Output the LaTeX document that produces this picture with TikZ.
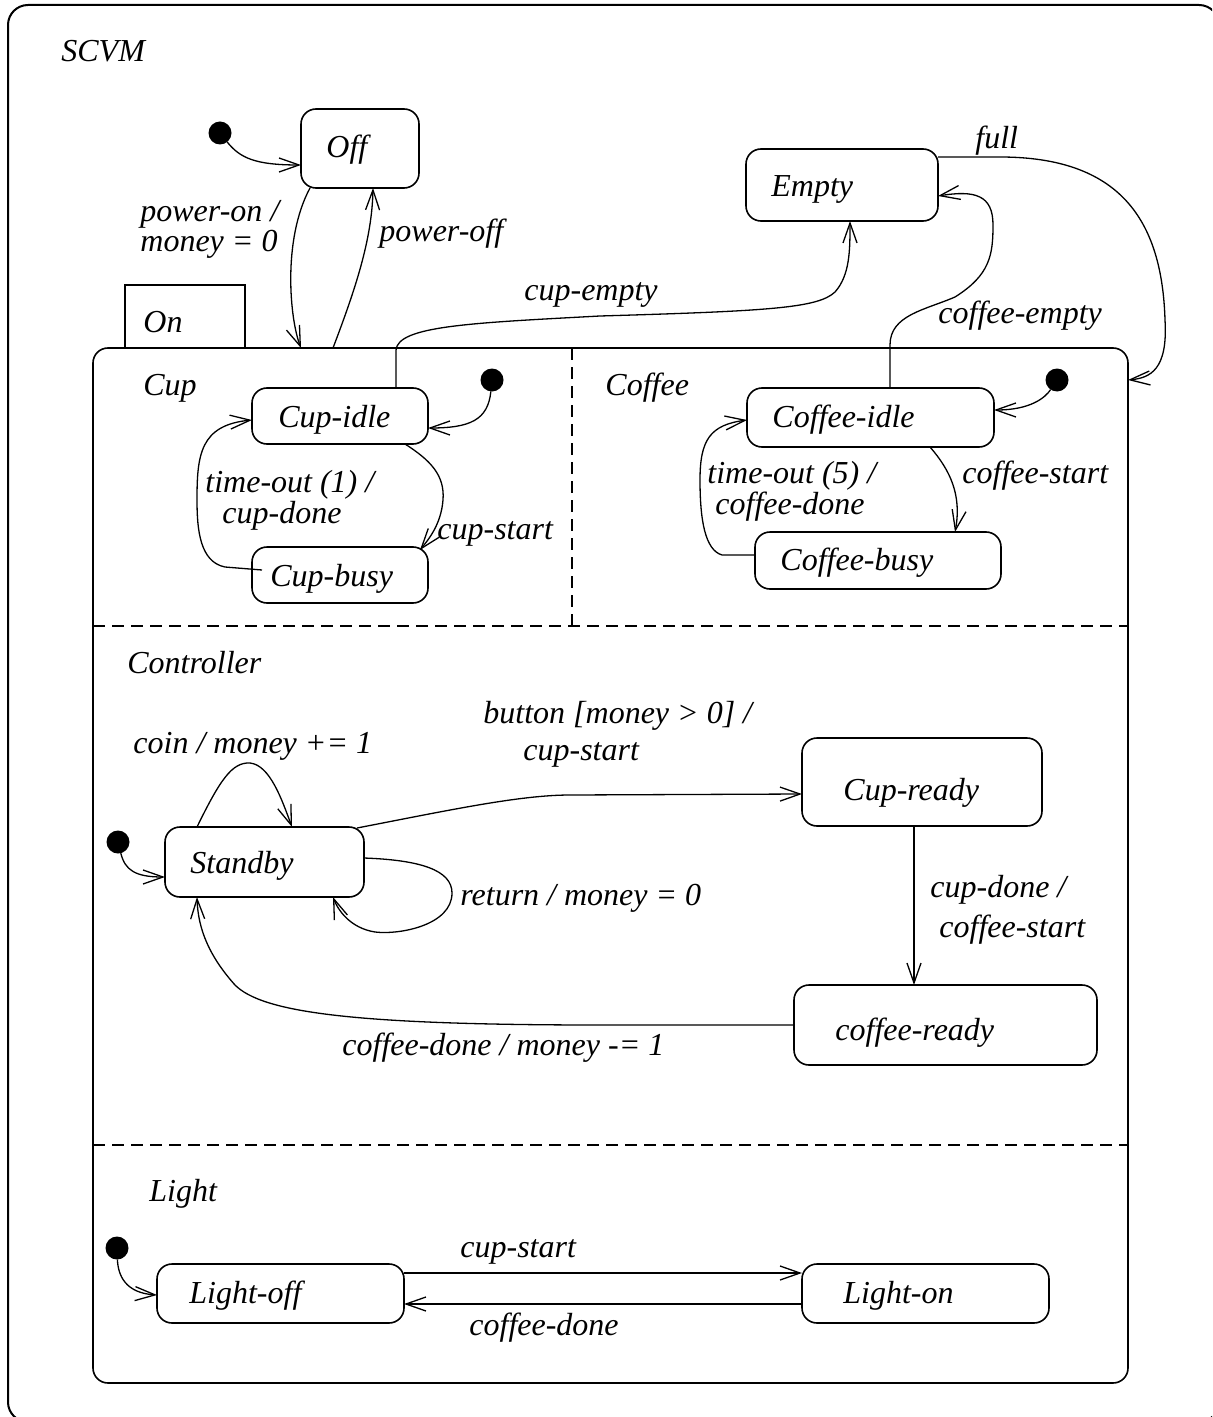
\documentclass[tikz,border=0pt]{standalone}
\usepackage{fontspec}
\setmainfont{Liberation Serif}
\usetikzlibrary{arrows.meta}
\begin{document}
\begin{tikzpicture}[x=0.5pt,y=-0.5pt,
  state/.style={draw, line width=0.8pt, rounded corners=7.5pt, inner sep=0pt, outer sep=0pt},
  tab/.style={draw, line width=0.8pt, inner sep=0pt, outer sep=0pt},
  startdot/.style={circle, fill=black, inner sep=0pt, outer sep=0pt, minimum size=11.5pt},
  tr/.style={draw, line width=0.65pt, -{Straight Barb[length=10pt,width=7pt]}},
  lbl/.style={anchor=base west, inner sep=0pt, font=\itshape\fontsize{16}{16}\selectfont},
  region/.style={draw, dash pattern=on 6pt off 3.5pt, line width=0.65pt}]

\useasboundingbox (0,0) rectangle (1212,1417);
\fill[white] (0,0) rectangle (1212,1417);
\clip (0,0) rectangle (1212,1417);

% outer machine
\node[state, line width=1pt, rounded corners=10pt, minimum width=605.5pt, minimum height=708.5pt] (scvm) at (613.5,713.5) {};
\node[lbl] (tscvm) at (61,62) {SCVM};

% top level states
\node[startdot] (i0) at (220,133) {};
\node[state, minimum width=59pt, minimum height=39.5pt] (off) at (360,148.5) {};
\node[lbl] (toff) at (326,158) {Off};
\node[state, minimum width=96pt, minimum height=36pt] (empty) at (842,185) {};
\node[lbl] (tempty) at (771,197) {Empty};

% composite state On
\node[tab, minimum width=60pt, minimum height=31.5pt] (ontab) at (185,316.5) {};
\node[lbl] (ton) at (143,333) {On};
\node[state, fill=white, minimum width=517.5pt, minimum height=517.5pt] (on) at (610.5,865.5) {};

% region separators
\coordinate (sepv1) at (572,348);
\coordinate (sepv2) at (572,626);
\coordinate (seph1a) at (93,626);
\coordinate (seph1b) at (1128,626);
\coordinate (seph2a) at (93,1145);
\coordinate (seph2b) at (1128,1145);
\draw[region] (sepv1) -- (sepv2);
\draw[region] (seph1a) -- (seph1b);
\draw[region] (seph2a) -- (seph2b);

% Cup region
\node[lbl] (tcup) at (143,395) {Cup};
\node[startdot] (icup) at (492,380) {};
\node[state, minimum width=88pt, minimum height=28pt] (cupidle) at (340,416) {};
\node[lbl] (tcupidle) at (278,427) {Cup-idle};
\node[state, minimum width=88pt, minimum height=28pt] (cupbusy) at (340,575) {};
\node[lbl] (tcupbusy) at (270,586) {Cup-busy};

% Coffee region
\node[lbl] (tcoffee) at (605,395) {Coffee};
\node[startdot] (icoffee) at (1057,380) {};
\node[state, minimum width=123.5pt, minimum height=29.5pt] (coffeeidle) at (870.5,417.5) {};
\node[lbl] (tcoffeeidle) at (772,427) {Coffee-idle};
\node[state, minimum width=123pt, minimum height=28.5pt] (coffeebusy) at (878,560.5) {};
\node[lbl] (tcoffeebusy) at (780,570) {Coffee-busy};

% Controller region
\node[lbl] (tctrl) at (127,673) {Controller};
\node[startdot] (ictrl) at (118,842) {};
\node[state, minimum width=99.5pt, minimum height=35pt] (standby) at (264.5,862) {};
\node[lbl] (tstandby) at (190,873) {Standby};
\node[state, minimum width=120pt, minimum height=44pt] (cupready) at (922,782) {};
\node[lbl] (tcupready) at (843,800) {Cup-ready};
\node[state, minimum width=151.5pt, minimum height=40pt] (coffeeready) at (945.5,1025) {};
\node[lbl] (tcoffeeready) at (835,1040) {coffee-ready};

% Light region
\node[lbl] (tlight) at (149,1201) {Light};
\node[startdot] (ilight) at (117,1248) {};
\node[state, minimum width=123.5pt, minimum height=29.5pt] (lightoff) at (280.5,1293.5) {};
\node[lbl] (tlightoff) at (189,1303) {Light-off};
\node[state, minimum width=123.5pt, minimum height=29.5pt] (lighton) at (925.5,1293.5) {};
\node[lbl] (tlighton) at (843,1303) {Light-on};

% ---- transitions: top level
\draw[tr] (i0) .. controls (240,158) and (255,165) .. ([yshift=-8.25pt]off.west);
\draw[tr] ([xshift=-25pt]off.south) .. controls (282,240) and (290,320) .. ([xshift=-154.75pt]on.north);
\node[lbl] (lpon1) at (140,222) {power-on /};
\node[lbl] (lpon2) at (140,252) {money = 0};
\draw[tr] ([xshift=-138.75pt]on.north) .. controls (355,290) and (372,240) .. ([xshift=6.5pt]off.south);
\node[lbl] (lpoff) at (379,242) {power-off};

\draw[tr] ([xshift=28pt]cupidle.north) -- (396,350) .. controls (398,326) and (470,323) .. (600,316)
  .. controls (770,311) and (818,308) .. (835,292) .. controls (850,275) and (850,250) .. ([xshift=4pt]empty.south);
\node[lbl] (lcupempty) at (524,300) {cup-empty};

\draw[tr] ([xshift=9.75pt]coffeeidle.north) -- (890,345) .. controls (890,315) and (925,310) .. (955,297)
  .. controls (990,275) and (993,255) .. (993,225) .. controls (993,195) and (975,190) .. ([yshift=-5.5pt]empty.east);
\node[lbl] (lcoffeeempty) at (938,323) {coffee-empty};

\draw[tr] ([yshift=14pt]empty.east) -- (1000,157) .. controls (1120,157) and (1162,220) .. (1165,320)
  .. controls (1168,370) and (1150,378) .. ([yshift=242.75pt]on.east);
\node[lbl] (lfull) at (975,149) {full};

% ---- Cup region
\draw[tr] (icup) .. controls (488,420) and (470,428) .. ([yshift=-6pt]cupidle.east);
\draw[tr] ([xshift=32.5pt]cupidle.south) .. controls (430,460) and (445,475) .. (443,500)
  .. controls (441,525) and (428,540) .. ([xshift=40pt,yshift=-1.5pt]cupbusy.north);
\node[lbl] (lcupstart) at (437,539) {cup-start};
\draw[tr] ([xshift=5pt,yshift=2.5pt]cupbusy.west) -- (225,567) .. controls (200,562) and (197,530) .. (197,500)
  .. controls (197,455) and (200,425) .. ([yshift=-2pt]cupidle.west);
\node[lbl] (lto1a) at (205,492) {time-out (1) /};
\node[lbl] (lto1b) at (222,523) {cup-done};

% ---- Coffee region
\draw[tr] (icoffee) .. controls (1045,398) and (1030,410) .. ([yshift=3.75pt]coffeeidle.east);
\draw[tr] ([xshift=29.75pt]coffeeidle.south) .. controls (950,470) and (962,495) .. ([xshift=38.5pt]coffeebusy.north);
\node[lbl] (lcoffeestart) at (962,483) {coffee-start};
\draw[tr] ([yshift=2.75pt]coffeebusy.west) -- (722,555) .. controls (705,550) and (700,520) .. (700,480)
  .. controls (700,440) and (710,425) .. ([yshift=-1.25pt]coffeeidle.west);
\node[lbl] (lto5a) at (707,483) {time-out (5) /};
\node[lbl] (lto5b) at (715,514) {coffee-done};

% ---- Controller region
\draw[tr] (ictrl) .. controls (125,870) and (135,877) .. ([yshift=-7.5pt]standby.west);
\draw[tr] ([xshift=-33.75pt]standby.north) .. controls (220,780) and (232,762) .. (250,763)
  .. controls (270,765) and (282,800) .. ([xshift=13.75pt]standby.north);
\node[lbl] (lcoin) at (133,753) {coin / money += 1};
\draw[tr] ([yshift=2pt]standby.east) .. controls (420,860) and (452,870) .. (452,893)
  .. controls (452,925) and (400,935) .. (375,932) .. controls (350,928) and (338,910) .. ([xshift=34.25pt]standby.south);
\node[lbl] (lreturn) at (460,905) {return / money = 0};
\draw[tr] ([xshift=46.25pt,yshift=-0.5pt]standby.north) .. controls (450,810) and (520,795) .. (570,795)
  -- ([yshift=-6pt]cupready.west);
\node[lbl] (lbutton1) at (483,723) {button [money > 0] /};
\node[lbl] (lbutton2) at (523,760) {cup-start};
\draw[tr] ([xshift=-4pt]cupready.south) -- ([xshift=-15.75pt]coffeeready.north);
\node[lbl] (lcupdone1) at (930,897) {cup-done /};
\node[lbl] (lcupdone2) at (939,937) {coffee-start};
\draw[tr] (coffeeready.west) -- (600,1025) .. controls (350,1025) and (262,1012) .. (235,985)
  .. controls (210,957) and (198,930) .. ([xshift=-33.75pt]standby.south);
\node[lbl] (lcoffeedone) at (342,1055) {coffee-done / money -= 1};

% ---- Light region
\draw[tr] (ilight) .. controls (118,1275) and (125,1293) .. ([yshift=-0.75pt]lightoff.west);
\draw[tr] ([yshift=10.25pt]lightoff.east) -- ([yshift=10.25pt]lighton.west);
\node[lbl] (llcupstart) at (460,1257) {cup-start};
\draw[tr] ([yshift=-5.25pt]lighton.west) -- ([yshift=-5.25pt]lightoff.east);
\node[lbl] (llcoffeedone) at (469,1335) {coffee-done};

\end{tikzpicture}
\end{document}
